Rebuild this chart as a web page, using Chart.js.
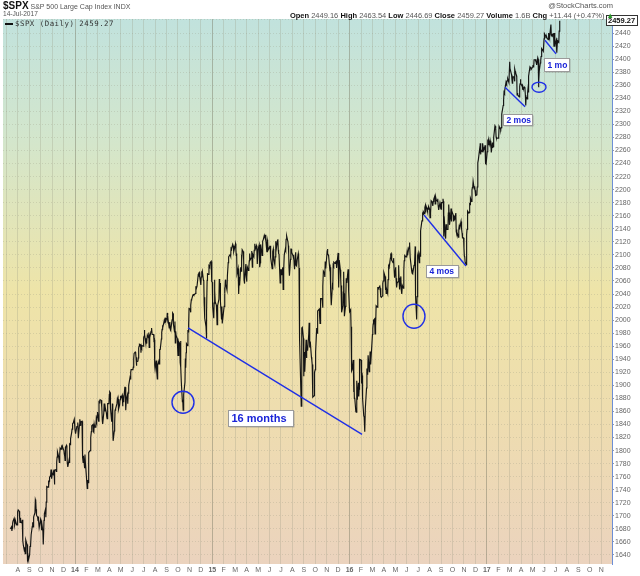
<!DOCTYPE html>
<html>
<head>
<meta charset="utf-8">
<title>$SPX daily</title>
<script src="https://cdn.jsdelivr.net/npm/chart.js@4.4.1/dist/chart.umd.min.js"></script>
<style>
  body { margin: 0; background: #fff; }
  #wrap { position: relative; width: 640px; height: 576px; font-family: "Liberation Sans", Arial, sans-serif; }
  #wrap canvas { position: absolute; left: 0; top: 0; }
  .hd { position: absolute; white-space: nowrap; color: #555; font-size: 7.5px; line-height: 1; }
  .hd b { color: #111; }
  .lg { font-family: "DejaVu Sans Mono", monospace; font-size: 7.4px; letter-spacing: 0.5px; color: #333; }
  .lg i { display: inline-block; width: 8px; height: 2px; background: #111; vertical-align: middle; margin-right: 2px; }
</style>
</head>
<body>
<div id="wrap">
  <canvas id="spxChart" width="640" height="576"></canvas>
  <div class="hd" style="left:3px;top:1px;font-size:7px;"><b style="font-size:10px;">$SPX</b> S&amp;P 500 Large Cap Index INDX</div>
  <div class="hd" style="left:3px;top:11px;font-size:6.6px;">14-Jul-2017</div>
  <div class="hd" style="right:27px;top:2px;">@StockCharts.com</div>
  <div class="hd" style="right:26px;top:12px;"><b>Open</b> 2449.16 <b>High</b> 2463.54 <b>Low</b> 2446.69 <b>Close</b> 2459.27 <b>Volume</b> 1.6B <b>Chg</b> +11.44 (+0.47%) <span style="color:#2a9a2a">&#9650;</span></div>
  <div class="hd lg" style="left:5px;top:20px;"><i></i>$SPX (Daily) 2459.27</div>
</div>
<script>
// daily closes, one inner array per month
const spx2013 = [ // Jul (from the 12th) .. Dec
  [1680,1683,1677,1681,1689,1692,1696,1692,1686,1690,1692,1686,1686,1686],
  [1706,1709,1707,1697,1690,1697,1691,1689,1694,1685,1662,1655,1646,1652,1642,1656,1663,1656,1630,1634,1638,1633],
  [1640,1653,1655,1655,1671,1684,1690,1683,1688,1698,1705,1725,1723,1710,1701,1698,1693,1699,1692,1682],
  [1695,1693,1678,1691,1676,1656,1656,1693,1703,1710,1698,1721,1733,1745,1744,1754,1746,1753,1759,1762,1771,1763,1757],
  [1762,1767,1762,1771,1748,1770,1771,1768,1782,1790,1798,1791,1787,1782,1795,1804,1802,1807,1808,1806],
  [1800,1795,1792,1785,1805,1808,1802,1782,1775,1775,1786,1781,1810,1809,1818,1828,1833,1842,1841,1842,1848]
];
const spx2014 = [
  [1832,1831,1826,1837,1837,1838,1843,1819,1839,1848,1845,1838,1844,1845,1828,1790,1782,1792,1774,1794,1783],
  [1742,1755,1751,1773,1797,1800,1819,1820,1829,1838,1840,1829,1828,1840,1836,1836,1848,1845,1854,1859],
  [1845,1874,1873,1877,1878,1877,1867,1868,1846,1841,1858,1872,1860,1872,1866,1858,1852,1849,1857,1872,1872],
  [1886,1890,1889,1865,1845,1852,1872,1833,1815,1830,1842,1862,1864,1864,1872,1879,1876,1879,1863,1870,1878,1884],
  [1883,1881,1885,1868,1878,1875,1878,1897,1897,1888,1862,1878,1885,1872,1888,1893,1900,1912,1910,1920,1924],
  [1924,1925,1928,1941,1949,1951,1950,1943,1930,1936,1937,1942,1957,1960,1963,1962,1950,1960,1958,1961,1960],
  [1973,1975,1985,1978,1964,1972,1964,1968,1977,1973,1981,1958,1978,1973,1983,1987,1988,1978,1978,1978,1969,1970,1931],
  [1925,1938,1920,1921,1910,1931,1937,1933,1946,1955,1955,1971,1981,1986,1992,1988,1997,2000,1998,1997,2003],
  [2002,2000,2011,2007,2001,1988,1996,1997,1985,1984,1998,2001,2011,2010,1994,1982,1998,1965,1983,1977,1972],
  [1946,1946,1967,1964,1935,1968,1928,1906,1875,1878,1862,1862,1886,1905,1941,1927,1950,1964,1961,1985,1982,1994,2018],
  [2017,2012,2023,2031,2032,2038,2039,2038,2039,2039,2041,2052,2048,2048,2052,2069,2068,2072,2073,2067],
  [2054,2066,2075,2071,2075,2061,2060,2026,2035,2003,1990,1972,2013,2061,2071,2070,2083,2082,2081,2088,2090,2081,2059]
];
const spx2015 = [
  [2058,2021,2003,2026,2062,2045,2028,2023,2011,1993,2019,2022,2032,2063,2051,2057,2029,2002,2021,1995],
  [2021,2050,2041,2062,2055,2046,2068,2068,2088,2097,2100,2100,2098,2110,2109,2116,2114,2110,2105],
  [2117,2108,2099,2102,2071,2079,2044,2040,2066,2053,2081,2075,2100,2090,2108,2105,2092,2062,2056,2061,2086,2068],
  [2059,2066,2081,2076,2082,2091,2102,2092,2095,2106,2105,2081,2101,2097,2107,2112,2117,2109,2114,2106,2086],
  [2108,2115,2089,2081,2088,2116,2105,2099,2099,2121,2123,2130,2128,2126,2131,2126,2104,2123,2120,2107],
  [2112,2110,2114,2096,2092,2079,2080,2105,2109,2094,2085,2097,2100,2121,2110,2122,2124,2108,2102,2101,2057,2063],
  [2077,2077,2069,2081,2047,2052,2077,2100,2109,2107,2124,2127,2129,2120,2114,2102,2079,2068,2093,2109,2109,2104],
  [2098,2094,2100,2084,2078,2104,2084,2086,2083,2092,2102,2096,2080,2036,1971,1893,1868,1940,1988,1989,1972],
  [1914,1949,1951,1921,1970,1942,1953,1961,1953,1979,1996,1990,1958,1967,1943,1939,1932,1931,1882,1884,1920],
  [1924,1951,1988,1980,1996,2014,2015,2017,2004,1995,2024,2033,2033,2030,2019,2052,2075,2072,2066,2090,2089,2079],
  [2104,2109,2102,2100,2099,2079,2081,2075,2045,2023,2053,2051,2084,2082,2089,2087,2089,2089,2090,2080],
  [2103,2081,2050,2092,2077,2064,2048,2053,2012,2022,2043,2074,2041,2006,2021,2038,2064,2061,2057,2078,2063,2044]
];
const spx2016 = [
  [2013,2016,1990,1943,1922,1924,1939,1890,1922,1880,1881,1860,1859,1869,1907,1878,1904,1883,1894,1940],
  [1939,1903,1912,1915,1880,1853,1852,1851,1829,1865,1896,1926,1917,1918,1946,1921,1929,1952,1948,1932],
  [1978,1987,1994,2000,2002,1979,1990,1989,2022,2020,2027,2050,2050,2049,2052,2049,2037,2036,2035,2037,2056,2060],
  [2073,2067,2046,2064,2041,2048,2041,2062,2082,2083,2081,2095,2101,2102,2091,2092,2088,2091,2095,2075,2065],
  [2081,2064,2051,2050,2057,2059,2084,2065,2065,2047,2067,2047,2048,2040,2053,2049,2076,2091,2091,2099,2097],
  [2100,2105,2099,2110,2112,2119,2116,2096,2080,2075,2072,2077,2071,2084,2089,2086,2113,2037,2001,2036,2071,2099],
  [2103,2088,2100,2098,2130,2137,2152,2152,2163,2162,2166,2163,2173,2175,2165,2176,2170,2166,2171,2170,2174],
  [2170,2157,2163,2164,2183,2181,2180,2175,2182,2185,2190,2178,2182,2188,2184,2182,2186,2176,2175,2169,2180,2177,2171],
  [2170,2180,2180,2186,2182,2128,2159,2128,2125,2147,2139,2139,2139,2164,2177,2165,2146,2159,2171,2151,2168],
  [2161,2151,2160,2154,2153,2164,2136,2139,2132,2133,2127,2140,2144,2139,2141,2151,2143,2140,2133,2126,2126],
  [2111,2098,2097,2089,2085,2131,2139,2163,2167,2164,2165,2180,2177,2187,2182,2199,2203,2204,2213,2201,2205,2199],
  [2192,2191,2192,2204,2212,2241,2246,2260,2256,2271,2254,2262,2258,2263,2271,2265,2260,2264,2268,2250,2240,2239]
];
const spx2017 = [ // Jan .. Jul (to the 14th)
  [2258,2269,2277,2269,2276,2269,2275,2270,2275,2257,2272,2264,2272,2265,2280,2298,2297,2294,2281,2279],
  [2279,2281,2297,2293,2292,2295,2307,2316,2329,2337,2349,2347,2351,2365,2362,2364,2367,2370,2364],
  [2396,2382,2383,2376,2369,2363,2365,2373,2373,2366,2385,2381,2379,2374,2345,2348,2346,2344,2342,2358,2362,2369,2363],
  [2359,2360,2353,2357,2355,2357,2354,2345,2329,2342,2339,2349,2355,2349,2374,2388,2387,2388,2384],
  [2388,2391,2388,2389,2399,2399,2397,2400,2394,2391,2402,2400,2357,2365,2382,2394,2398,2404,2415,2416,2413,2412],
  [2431,2439,2436,2433,2433,2434,2432,2430,2440,2437,2433,2433,2453,2437,2436,2435,2438,2439,2419,2440,2419,2423],
  [2429,2432,2410,2425,2428,2426,2443,2447,2459]
];
const monthLetters = ["14","F","M","A","M","J","J","A","S","O","N","D"];
const firstMonthTick = -6;   // Jul 2013 (months from Jan 2014)
const lastMonthTick = 46;    // Nov 2017
const lastClose = 2459.27;

// hand-drawn marks on the original, in month-index / price units
const trendLines = [[9.88, 1988, 25.09, 1825], [30.51, 2161, 34.18, 2083], [37.59, 2357, 39.34, 2327], [41.08, 2429, 42.05, 2408]];
const circles = [[9.44, 1874, 11, 11], [29.63, 2006, 11, 12], [40.56, 2357, 7, 5]];
const notes = [["16 months", 13.37, 1862, 65, 16, 11], ["4 mos", 30.68, 2084, 32, 12, 8.5], ["2 mos", 37.41, 2316, 29, 11, 8.5], ["1 mo", 41.0, 2402, 25, 13, 8.5]];

const FONT = '"Liberation Sans", Arial, sans-serif';

// weekdays of a month (m = 1..12)
function weekdays(y, m) {
  const out = [];
  const n = new Date(y, m, 0).getDate();
  for (let d = 1; d <= n; d++) {
    const wd = new Date(y, m - 1, d).getDay();
    if (wd > 0 && wd < 6) out.push(d);
  }
  return out;
}

// x is months since Jan 2014 (fractional)
const points = [];
[[2013, 7, spx2013], [2014, 1, spx2014], [2015, 1, spx2015], [2016, 1, spx2016], [2017, 1, spx2017]].forEach(([yr, m0, months], yi) => {
  months.forEach((vals, k) => {
    const m = m0 + k;
    const wd = weekdays(yr, m);
    const n = new Date(yr, m, 0).getDate();
    // first (partial) month sits at the end of July, the rest start on the 1st
    const days = (yi === 0 && k === 0) ? wd.slice(wd.length - vals.length) : wd.slice(0, vals.length);
    vals.forEach((v, i) => {
      points.push({ x: (yr - 2014) * 12 + (m - 1) + (days[i] - 1) / n, y: v });
    });
  });
});

const monthTicks = [];
for (let m = firstMonthTick; m <= lastMonthTick; m++) monthTicks.push({ value: m });

const isYear = v => Math.round(v) % 12 === 0;

const bgPlugin = {
  id: "bg",
  beforeDraw(chart) {
    const { ctx, chartArea: a } = chart;
    const g = ctx.createLinearGradient(0, a.top, 0, a.bottom);
    g.addColorStop(0, "#c1e2dd");
    g.addColorStop(0.22, "#d3e6cc");
    g.addColorStop(0.5, "#eee4a8");
    g.addColorStop(0.75, "#eedcb0");
    g.addColorStop(1, "#ebd3be");
    ctx.save();
    ctx.fillStyle = g;
    ctx.fillRect(a.left, a.top, a.right - a.left, a.bottom - a.top);
    ctx.restore();
  }
};

const marksPlugin = {
  id: "marks",
  afterDatasetsDraw(chart) {
    const { ctx } = chart;
    const xs = chart.scales.x, ys = chart.scales.y;
    ctx.save();
    ctx.strokeStyle = "#1f2fe6";
    ctx.lineWidth = 1.4;
    trendLines.forEach(l => {
      ctx.beginPath();
      ctx.moveTo(xs.getPixelForValue(l[0]), ys.getPixelForValue(l[1]));
      ctx.lineTo(xs.getPixelForValue(l[2]), ys.getPixelForValue(l[3]));
      ctx.stroke();
    });
    circles.forEach(c => {
      ctx.beginPath();
      ctx.ellipse(xs.getPixelForValue(c[0]), ys.getPixelForValue(c[1]), c[2], c[3], 0, 0, Math.PI * 2);
      ctx.stroke();
    });
    notes.forEach(n => {
      const x = Math.round(xs.getPixelForValue(n[1])) + 0.5;
      const y = Math.round(ys.getPixelForValue(n[2])) + 0.5;
      ctx.fillStyle = "rgba(120,120,120,0.5)";
      ctx.fillRect(x + 1, y + 1, n[3], n[4]);
      ctx.fillStyle = "#fff";
      ctx.fillRect(x, y, n[3], n[4]);
      ctx.strokeStyle = "#9a9a9a";
      ctx.lineWidth = 1;
      ctx.strokeRect(x, y, n[3], n[4]);
      ctx.fillStyle = "#1a24d8";
      ctx.font = "bold " + n[5] + "px " + FONT;
      ctx.textBaseline = "middle";
      ctx.fillText(n[0], x + 3, y + n[4] / 2 + 0.5);
    });
    ctx.restore();
  },
  afterDraw(chart) {
    const { ctx, chartArea: a } = chart;
    const y = Math.round(chart.scales.y.getPixelForValue(lastClose));
    ctx.save();
    ctx.fillStyle = "#fff";
    ctx.fillRect(a.right - 6, y - 5, 32, 10);
    ctx.strokeStyle = "#333";
    ctx.lineWidth = 1;
    ctx.strokeRect(a.right - 5.5, y - 4.5, 31, 10);
    ctx.fillStyle = "#111";
    ctx.font = "bold 7.5px " + FONT;
    ctx.textBaseline = "middle";
    ctx.fillText(lastClose.toFixed(2), a.right - 4, y + 0.8);
    ctx.restore();
  }
};

new Chart(document.getElementById("spxChart"), {
  type: "line",
  data: {
    datasets: [{
      label: "$SPX (Daily)",
      data: points,
      borderColor: "#141414",
      borderWidth: 1.15,
      pointRadius: 0,
      tension: 0,
      fill: false
    }]
  },
  options: {
    responsive: false,
    animation: false,
    layout: { padding: { left: 3, top: 19, right: 0, bottom: 0 } },
    plugins: { legend: { display: false }, tooltip: { enabled: false } },
    scales: {
      x: {
        type: "linear",
        min: -6.294,
        max: 46.94,
        afterBuildTicks(s) { s.ticks = monthTicks.map(t => ({ value: t.value })); },
        afterFit(s) { s.height = 12; },
        border: { display: false },
        grid: {
          color: c => (c.tick && isYear(c.tick.value)) ? "rgba(120,120,100,0.45)" : "rgba(150,150,130,0.28)",
          drawTicks: false
        },
        ticks: {
          autoSkip: false,
          maxRotation: 0,
          padding: 2,
          color: "#666",
          font: c => ({ family: FONT, size: 7, weight: (c.tick && isYear(c.tick.value)) ? "bold" : "normal" }),
          callback: v => {
            const m = Math.round(v);
            if (m <= firstMonthTick) return "";
            const mo = ((m % 12) + 12) % 12;
            if (mo === 0) return String(14 + m / 12);
            return monthLetters[mo];
          }
        }
      },
      y: {
        position: "right",
        min: 1626.2,
        max: 2461.5,
        afterFit(s) { s.width = 28; },
        border: { display: true, color: "#6d8fd6", dash: [1, 2] },
        grid: { color: "rgba(150,150,130,0.28)", tickLength: 2, tickColor: "#999" },
        ticks: {
          stepSize: 20,
          includeBounds: false,
          padding: 1,
          color: "#666",
          font: { family: FONT, size: 7 },
          callback: v => v > 2440 ? "" : v
        }
      }
    }
  },
  plugins: [bgPlugin, marksPlugin]
});
</script>
</body>
</html>
